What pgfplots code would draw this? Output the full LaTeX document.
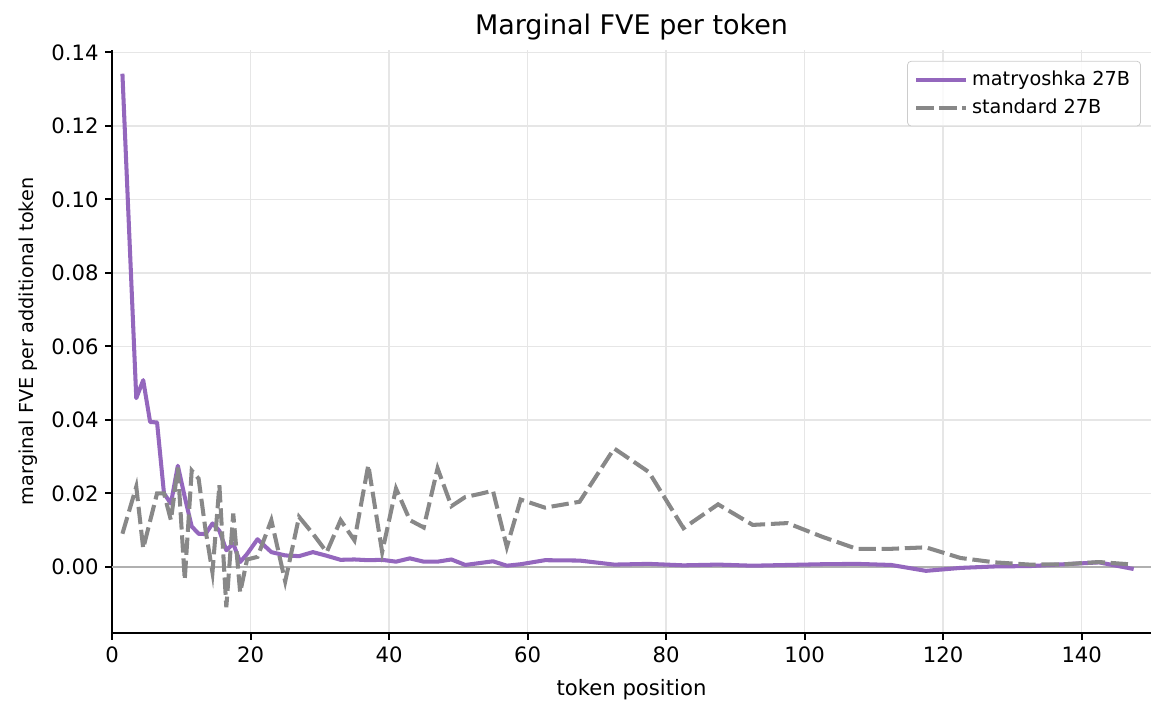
\documentclass[border=0pt]{standalone}
\usepackage{pgfplots}
\pgfplotsset{compat=1.18}
\usepackage{pgfplotstable}
\usepackage{fontspec}
\setmainfont{DejaVu Sans}
\definecolor{mpurple}{HTML}{9467BD}
\definecolor{mgray}{HTML}{888888}
\definecolor{zline}{HTML}{B0B0B0}
\definecolor{gridc}{HTML}{E6E6E6}

\pgfplotstableread{
x y
1.5 0.1342
3.5 0.0459
4.5 0.0508
5.5 0.0394
6.5 0.0393
7.5 0.0200
8.5 0.0172
9.5 0.0275
10.5 0.0190
11.5 0.0110
12.5 0.0090
13.5 0.0089
14.5 0.0118
15.5 0.0098
16.5 0.0045
17.5 0.0063
18.5 0.0013
19.5 0.0035
21 0.0075
23 0.0040
25 0.0031
27 0.0029
29 0.0040
31 0.0030
33 0.0019
35 0.0020
37 0.0018
39 0.0019
41 0.0014
43 0.0023
45 0.0014
47 0.0014
49 0.0020
51 0.0005
53 0.0010
55 0.0015
57 0.0003
59 0.0007
62.5 0.0018
67.5 0.0017
72.5 0.0006
77.5 0.0008
82.5 0.0004
87.5 0.0006
92.5 0.0003
97.5 0.0005
102.5 0.0007
107.5 0.0008
112.5 0.0005
117.5 -0.0011
122.5 -0.0003
127.5 0.0001
132.5 0.0002
137.5 0.0007
142.5 0.0012
147.5 -0.0006
}\matry

\pgfplotstableread{
x y
1.5 0.0090
3.5 0.0218
4.5 0.0050
5.5 0.0125
6.5 0.0200
7.5 0.0200
8.5 0.0127
9.5 0.0270
10.5 -0.0035
11.5 0.0262
12.5 0.0240
13.5 0.0100
14.5 -0.0015
15.5 0.0222
16.5 -0.0110
17.5 0.0145
18.5 -0.0070
19.5 0.0020
21 0.0027
23 0.0127
25 -0.0040
27 0.0136
29 0.0090
31 0.0040
33 0.0127
35 0.0072
37 0.0277
39 0.0040
41 0.0213
43 0.0127
45 0.0107
47 0.0268
49 0.0165
51 0.0190
53 0.0198
55 0.0207
57 0.0054
59 0.0183
62.5 0.0161
67.5 0.0177
72.5 0.0322
77.5 0.0258
82.5 0.0105
87.5 0.0170
92.5 0.0114
97.5 0.0119
102.5 0.0082
107.5 0.0049
112.5 0.0049
117.5 0.0053
122.5 0.0024
127.5 0.0012
132.5 0.0006
137.5 0.0007
142.5 0.0013
147.5 0.0006
}\standard

\begin{document}
\begin{tikzpicture}
\useasboundingbox (-58.2pt,-44.7pt) rectangle (547.5pt,328.8pt);
\begin{axis}[
  at={(0,0)}, anchor=south west,
  scale only axis,
  width=539.7pt, height=302.9pt,
  xmin=0, xmax=150,
  ymin=-0.018, ymax=0.1407,
  xtick={0,20,40,60,80,100,120,140},
  ytick={0,0.02,0.04,0.06,0.08,0.10,0.12,0.14},
  scaled y ticks=false,
  yticklabel style={/pgf/number format/.cd, fixed, fixed zerofill, precision=2},
  /pgf/number format/assume math mode=true,
  ticklabel style={font=\fontsize{11}{13}\selectfont},
  axis lines*=left,
  axis line style={-, line width=1pt, black},
  tick align=outside,
  major tick length=3.5pt,
  tick style={line width=1pt, black},
  grid=major,
  grid style={color=gridc, line width=0.8pt},
  every axis title shift=0pt,
  title={Marginal FVE per token},
  title style={font=\fontsize{14}{17}\selectfont, at={(axis description cs:0.5,1.0267)}, anchor=base, yshift=0pt},
  xlabel={token position},
  ylabel={marginal FVE per additional token},
  xlabel style={font=\fontsize{11}{13}\selectfont, at={(axis description cs:0.5,-0.0977)}, anchor=center},
  ylabel style={font=\fontsize{10}{12}\selectfont, at={(axis description cs:-0.0806,0.5)}, anchor=center},
  legend cell align=left,
  legend image code/.code={\draw[#1] (0pt,0pt) -- (23pt,0pt); \path (0pt,0pt) -- (26pt,0pt);},
  legend style={at={(axis description cs:1,1)}, anchor=north east, xshift=-5.2pt, yshift=-5.7pt,
    draw=black!20, rounded corners=2pt, fill=white, fill opacity=0.8, text opacity=1,
    font=\fontsize{10}{12}\selectfont, row sep=1.5pt, inner xsep=3.5pt, inner ysep=3pt},
]
\addplot[zline, line width=0.8pt, forget plot] coordinates {(0,0) (150,0)};
\addplot[mpurple, line width=2.1pt, line join=round] table[x=x,y=y] {\matry};
\addlegendentry{matryoshka 27B}
\addplot[mgray, line width=2.1pt, dash pattern=on 9pt off 3pt] table[x=x,y=y] {\standard};
\addlegendentry{standard 27B}
\end{axis}
\end{tikzpicture}
\end{document}
